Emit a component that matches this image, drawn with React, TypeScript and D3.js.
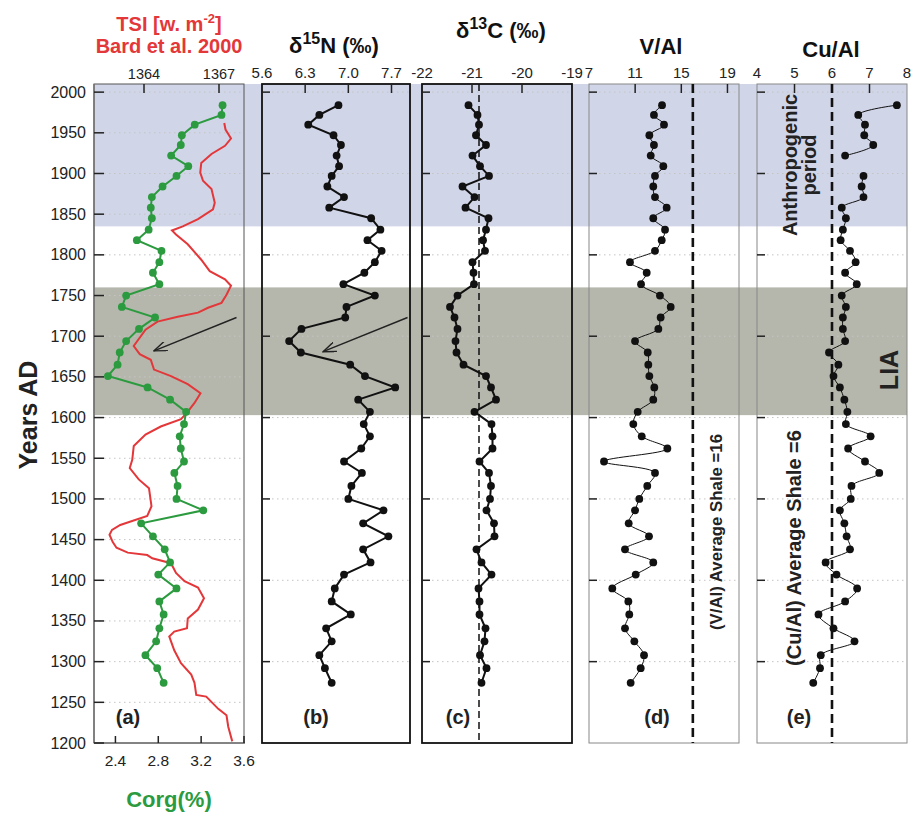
import React from 'react';
import * as d3 from 'd3';

// ---------------- DATA ----------------
const years = [1984,1972,1960,1947,1935,1922,1909,1897,1884,1871,1858,1845,1831,1818,1805,1791,1778,1764,1750,1736,1723,1709,1694,1680,1665,1651,1637,1622,1607,1592,1577,1562,1546,1532,1516,1500,1486,1470,1454,1438,1422,1407,1390,1374,1358,1341,1325,1308,1292,1274];

const corg = [3.40,3.39,3.14,3.02,3.01,2.92,3.08,2.97,2.84,2.74,2.73,2.74,2.71,2.60,2.83,2.81,2.75,2.81,2.50,2.46,2.77,2.62,2.50,2.44,2.42,2.33,2.70,2.91,3.06,3.04,3.00,3.01,3.04,2.95,2.98,2.97,3.22,2.64,2.75,2.86,2.91,2.80,2.97,2.81,2.85,2.81,2.78,2.68,2.79,2.85];

const d15N = [6.84,6.53,6.35,6.76,6.88,6.81,6.85,6.73,6.66,6.93,6.69,7.37,7.52,7.31,7.54,7.43,7.26,6.92,7.43,6.97,6.95,6.24,6.04,6.23,7.03,7.27,7.76,7.16,7.35,7.25,7.35,7.21,6.93,7.22,7.05,7.00,7.57,7.24,7.65,7.24,7.36,6.93,6.78,6.73,7.04,6.64,6.73,6.53,6.62,6.73];

const d13C = [-21.07,-20.89,-20.86,-20.92,-20.72,-20.99,-20.84,-20.66,-21.19,-20.95,-21.13,-20.67,-20.72,-20.78,-20.74,-20.99,-20.97,-20.96,-21.29,-21.44,-21.35,-21.29,-21.33,-21.31,-21.17,-20.72,-20.62,-20.52,-20.95,-20.61,-20.59,-20.59,-20.85,-20.66,-20.62,-20.64,-20.71,-20.56,-20.55,-20.91,-20.81,-20.61,-20.87,-20.85,-20.85,-20.73,-20.75,-20.84,-20.71,-20.81];

const vAl = [13.33,12.63,13.50,12.23,12.63,12.35,13.44,12.72,12.57,12.72,13.73,12.57,13.59,13.30,12.72,10.55,12.00,11.51,13.15,14.08,13.21,13.01,10.99,12.09,12.14,12.23,12.66,12.57,11.22,10.84,11.57,13.79,8.30,12.72,12.05,11.36,10.99,10.44,12.20,10.12,12.57,11.05,9.02,10.41,10.49,10.12,10.93,11.77,11.48,10.61];

const cuAl: (number | null)[] = [7.73,6.70,6.88,6.86,7.10,6.35,null,6.84,6.79,6.84,6.26,6.37,6.29,6.23,6.48,6.63,6.35,6.66,6.26,6.37,6.29,6.29,6.35,5.92,6.17,6.04,6.21,6.33,6.41,6.37,7.03,6.43,6.88,7.26,6.52,6.50,6.21,6.33,6.39,6.48,5.83,6.12,6.67,6.35,5.64,6.04,6.60,5.70,5.68,5.50];

const tsiYears = [1962,1954,1943,1934,1924,1913,1901,1891,1881,1864,1856,1844,1835,1830,1825,1813,1794,1780,1770,1762,1751,1741,1735,1729,1724,1718,1708,1688,1678,1671,1659,1651,1641,1630,1618,1606,1598,1589,1579,1565,1548,1538,1524,1513,1491,1479,1468,1462,1456,1447,1440,1434,1431,1427,1421,1409,1399,1391,1378,1364,1353,1341,1337,1331,1314,1298,1284,1274,1259,1257,1242,1234,1220,1202];
const tsiValues = [1367.21,1367.26,1367.48,1367.24,1366.70,1366.29,1366.25,1366.36,1366.70,1366.83,1366.76,1366.16,1365.55,1365.12,1365.28,1365.75,1366.29,1366.63,1367.24,1367.48,1367.30,1367.10,1366.56,1366.16,1365.35,1364.54,1364.06,1363.59,1363.83,1364.27,1364.40,1365.08,1365.75,1366.26,1366.02,1365.72,1365.48,1364.67,1364.06,1363.59,1363.53,1363.43,1363.79,1364.20,1364.30,1364.13,1363.05,1362.72,1362.62,1362.75,1362.90,1363.35,1364.13,1364.33,1365.08,1365.28,1365.62,1366.16,1366.40,1366.16,1365.75,1365.72,1365.21,1365.01,1365.21,1365.48,1365.89,1366.02,1366.09,1366.49,1366.97,1367.30,1367.37,1367.53];

const anthropogenicPeriod = [1835, 2010];
const liaPeriod = [1603, 1760];

const yearTicksA = [2000,1950,1900,1850,1800,1750,1700,1650,1600,1550,1500,1450,1400,1350,1300,1250,1200];
const yearTicksB = [2000,1900,1800,1700,1600,1500,1400,1300];
const tsiTicks = [1364, 1367];
const corgTicks = [2.4, 2.8, 3.2, 3.6];
const nTicks = [5.6, 6.3, 7.0, 7.7];
const cTicks = [-22, -21, -20, -19];
const vTicks = [7, 11, 15, 19];
const cuTicks = [4, 5, 6, 7, 8];

const d13CRef = -20.86;
const vAlShale = 16;
const cuAlShale = 6;

const arrowA = { from: [3.53, 1723], to: [2.76, 1682] };
const arrowB = { from: [7.96, 1723], to: [6.59, 1681] };

// ---------------- LAYOUT ----------------
const FONT = "'Liberation Sans', Arial, Helvetica, sans-serif";
const RED = '#e3373a';
const GREEN = '#2c9a3f';
const BLUE_BAND = '#d1d5e8';
const GRAY_BAND = '#b5b7ac';
const yTop = 84, yBot = 743;
const PA: [number, number] = [94, 244];
const PB: [number, number] = [262, 410];
const PC: [number, number] = [422, 572];
const PD: [number, number] = [589, 739];
const PE: [number, number] = [757, 907];

export default function App() {
  const y = d3.scaleLinear().domain([1200, 2010]).range([yBot, yTop]);
  const xCorg = d3.scaleLinear().domain([2.2, 3.6]).range(PA);
  const xTsi = d3.scaleLinear().domain([1362, 1368]).range(PA);
  const xN = d3.scaleLinear().domain([5.6, 8.0]).range(PB);
  const xC = d3.scaleLinear().domain([-22, -19]).range(PC);
  const xV = d3.scaleLinear().domain([7, 20]).range(PD);
  const xCu = d3.scaleLinear().domain([4, 8]).range(PE);

  const mk = (vals: (number | null)[]) => years.map((yr, i) => ({ yr, v: vals[i] }));

  const lineOf = (xs: d3.ScaleLinear<number, number>, curve: any = d3.curveLinear) =>
    d3.line<{ yr: number; v: number | null }>()
      .defined(d => d.v !== null)
      .x(d => xs(d.v as number))
      .y(d => y(d.yr))
      .curve(curve);

  const series = [
    { vals: corg, xs: xCorg, color: GREEN, w: 2, r: 3.9, curve: d3.curveLinear },
    { vals: d15N, xs: xN, color: '#111', w: 2, r: 3.9, curve: d3.curveLinear },
    { vals: d13C, xs: xC, color: '#111', w: 2, r: 3.9, curve: d3.curveLinear },
    { vals: vAl, xs: xV, color: '#111', w: 1, r: 3.9, curve: d3.curveCatmullRom },
    { vals: cuAl, xs: xCu, color: '#111', w: 1, r: 3.9, curve: d3.curveCatmullRom },
  ];

  const tsiLine = d3.line<number>()
    .x((_, i) => xTsi(tsiValues[i]))
    .y((d) => y(d))
    .curve(d3.curveLinear);

  const frames = [
    { p: PA, stroke: '#555', w: 1 },
    { p: PB, stroke: '#111', w: 1.8 },
    { p: PC, stroke: '#111', w: 1.8 },
    { p: PD, stroke: '#888', w: 1 },
    { p: PE, stroke: '#888', w: 1 },
  ];

  const topAxes = [
    { xs: xN, ticks: nTicks, fmt: (v: number) => v.toFixed(1) },
    { xs: xC, ticks: cTicks, fmt: (v: number) => String(v) },
    { xs: xV, ticks: vTicks, fmt: (v: number) => String(v) },
    { xs: xCu, ticks: cuTicks, fmt: (v: number) => String(v) },
  ];

  const bx0 = PA[0], bx1 = PE[1];

  return (
    <svg width={912} height={814} style={{ position: 'absolute', left: 0, top: 0, background: '#fff' }} fontFamily={FONT}>
      <defs>
        <marker id="arrowhead" viewBox="0 0 14 10" refX={13} refY={5} markerWidth={14} markerHeight={10} markerUnits="userSpaceOnUse" orient="auto">
          <path d="M0,0 L13,5 L0,10" fill="none" stroke="#222" strokeWidth={1.4} />
        </marker>
      </defs>
      {/* bands */}
      <rect x={bx0} width={bx1 - bx0} y={y(anthropogenicPeriod[1])} height={y(anthropogenicPeriod[0]) - y(anthropogenicPeriod[1])} fill={BLUE_BAND} />
      <rect x={bx0} width={bx1 - bx0} y={y(liaPeriod[1])} height={y(liaPeriod[0]) - y(liaPeriod[1])} fill={GRAY_BAND} />

      {/* grid lines */}
      {yearTicksA.filter(t => t > 1200).map(t => (
        <line key={'ga' + t} x1={PA[0]} x2={PA[1]} y1={y(t)} y2={y(t)} stroke="#c4c4c4" strokeDasharray="1.5,3.5" />
      ))}
      {[PB, PC, PD, PE].map((p, k) => yearTicksB.map(t => (
        <line key={'gb' + k + t} x1={p[0]} x2={p[1]} y1={y(t)} y2={y(t)} stroke="#c4c4c4" strokeDasharray="1.5,3.5" />
      )))}

      {/* frames */}
      {frames.map((f, i) => (
        <rect key={'f' + i} x={f.p[0]} y={yTop} width={f.p[1] - f.p[0]} height={yBot - yTop} fill="none" stroke={f.stroke} strokeWidth={f.w} />
      ))}
      <line x1={PA[0]} x2={PA[0]} y1={yTop} y2={yBot} stroke="#777" strokeWidth={1.6} />
      <line x1={PA[0]} x2={PA[1] + 1} y1={yBot} y2={yBot} stroke="#777" strokeWidth={1.6} />

      {/* left ticks */}
      {yearTicksA.map(t => (
        <g key={'ta' + t}>
          <line x1={PA[0]} x2={PA[0] + 10} y1={y(t)} y2={y(t)} stroke="#222" strokeWidth={1.5} />
          <text x={86} y={y(t) + 5.5} fontSize={16} textAnchor="end" fill="#222">{t}</text>
        </g>
      ))}
      {[PB, PC, PD, PE].map((p, k) => yearTicksB.map(t => (
        <line key={'tb' + k + t} x1={p[0]} x2={p[0] + 8} y1={y(t)} y2={y(t)} stroke="#222" strokeWidth={1.5} />
      )))}

      {/* TSI top axis */}
      {tsiTicks.map(t => (
        <g key={'tsi' + t}>
          <line x1={xTsi(t)} x2={xTsi(t)} y1={yTop} y2={yTop + 9} stroke="#222" strokeWidth={1.5} />
          <text x={xTsi(t)} y={79} fontSize={14.5} textAnchor="middle" fill="#222">{t}</text>
        </g>
      ))}
      {/* Corg bottom axis */}
      {corgTicks.map(t => (
        <g key={'corg' + t}>
          <line x1={xCorg(t)} x2={xCorg(t)} y1={yBot} y2={yBot - 7} stroke="#222" strokeWidth={1.5} />
          <text x={xCorg(t)} y={766} fontSize={15.5} textAnchor="middle" fill="#222">{t.toFixed(1)}</text>
        </g>
      ))}
      {/* top axes b-e */}
      {topAxes.map((ax, k) => ax.ticks.map((t, i) => (
        <g key={'top' + k + i}>
          {(t > ax.xs.domain()[0] && t < ax.xs.domain()[1]) && (
            <line x1={ax.xs(t)} x2={ax.xs(t)} y1={yTop} y2={yTop + 9} stroke="#222" strokeWidth={1.5} />
          )}
          <text x={ax.xs(t)} y={78} fontSize={15} textAnchor="middle" fill="#222">{ax.fmt(t)}</text>
        </g>
      )))}

      {/* reference dashed lines */}
      <line x1={xC(d13CRef)} x2={xC(d13CRef)} y1={yTop} y2={yBot} stroke="#111" strokeWidth={1.5} strokeDasharray="7,4" />
      <line x1={xV(vAlShale)} x2={xV(vAlShale)} y1={yTop} y2={yBot} stroke="#111" strokeWidth={2.6} strokeDasharray="9,5" />
      <line x1={xCu(cuAlShale)} x2={xCu(cuAlShale)} y1={yTop} y2={yBot} stroke="#111" strokeWidth={2.6} strokeDasharray="9,5" />

      {/* TSI line */}
      <path d={tsiLine(tsiYears) || ''} fill="none" stroke={RED} strokeWidth={2} />

      {/* series */}
      {series.map((s, k) => {
        const data = mk(s.vals);
        return (
          <g key={'s' + k}>
            <path d={lineOf(s.xs, s.curve)(data) || ''} fill="none" stroke={s.color} strokeWidth={s.w} />
            {data.filter(d => d.v !== null).map((d, i) => (
              <circle key={i} cx={s.xs(d.v as number)} cy={y(d.yr)} r={s.r} fill={s.color} />
            ))}
          </g>
        );
      })}

      {/* arrows */}
      <line x1={xCorg(arrowA.from[0])} y1={y(arrowA.from[1])} x2={xCorg(arrowA.to[0])} y2={y(arrowA.to[1])} stroke="#222" strokeWidth={1.4} markerEnd="url(#arrowhead)" />
      <line x1={xN(arrowB.from[0])} y1={y(arrowB.from[1])} x2={xN(arrowB.to[0])} y2={y(arrowB.to[1])} stroke="#222" strokeWidth={1.4} markerEnd="url(#arrowhead)" />

      {/* titles */}
      <text x={169} y={31} fontSize={20} fontWeight="bold" fill={RED} textAnchor="middle">
        TSI [w. m<tspan dy={-8} fontSize={13}>-2</tspan><tspan dy={8}>]</tspan>
      </text>
      <text x={169} y={53} fontSize={20} fontWeight="bold" fill={RED} textAnchor="middle">Bard et al. 2000</text>

      <text x={334} y={53} fontSize={22} fontWeight="bold" fill="#111" textAnchor="middle">
        δ<tspan dy={-9} fontSize={16}>15</tspan><tspan dy={9}>N (‰)</tspan>
      </text>
      <text x={501} y={38} fontSize={22} fontWeight="bold" fill="#111" textAnchor="middle">
        δ<tspan dy={-9} fontSize={16}>13</tspan><tspan dy={9}>C (‰)</tspan>
      </text>
      <text x={661} y={54} fontSize={22} fontWeight="bold" fill="#111" textAnchor="middle">V/Al</text>
      <text x={831} y={57} fontSize={22} fontWeight="bold" fill="#111" textAnchor="middle">Cu/Al</text>

      <text transform="translate(37,415) rotate(-90)" fontSize={25} fontWeight="bold" fill="#222" textAnchor="middle">Years AD</text>

      <text x={169} y={807} fontSize={22} fontWeight="bold" fill={GREEN} textAnchor="middle">Corg(%)</text>

      {/* panel labels */}
      <text x={128} y={724} fontSize={20} fontWeight="bold" fill="#222" textAnchor="middle">(a)</text>
      <text x={316} y={724} fontSize={20} fontWeight="bold" fill="#222" textAnchor="middle">(b)</text>
      <text x={458} y={724} fontSize={20} fontWeight="bold" fill="#222" textAnchor="middle">(c)</text>
      <text x={657} y={724} fontSize={20} fontWeight="bold" fill="#222" textAnchor="middle">(d)</text>
      <text x={799} y={724} fontSize={20} fontWeight="bold" fill="#222" textAnchor="middle">(e)</text>

      {/* rotated annotations */}
      <text transform="translate(722,532) rotate(-90)" fontSize={16.8} fontWeight="bold" fill="#222" textAnchor="middle">(V/Al) Average Shale =16</text>
      <text transform="translate(801,548) rotate(-90)" fontSize={20} fontWeight="bold" fill="#222" textAnchor="middle">(Cu/Al) Average Shale =6</text>
      <text transform="translate(797,165) rotate(-90)" fontSize={20} fontWeight="bold" fill="#222" textAnchor="middle">Anthropogenic</text>
      <text transform="translate(816,165) rotate(-90)" fontSize={20} fontWeight="bold" fill="#222" textAnchor="middle">period</text>
      <text transform="translate(898,370) rotate(-90)" fontSize={25} fontWeight="bold" fill="#222" textAnchor="middle">LIA</text>
    </svg>
  );
}
